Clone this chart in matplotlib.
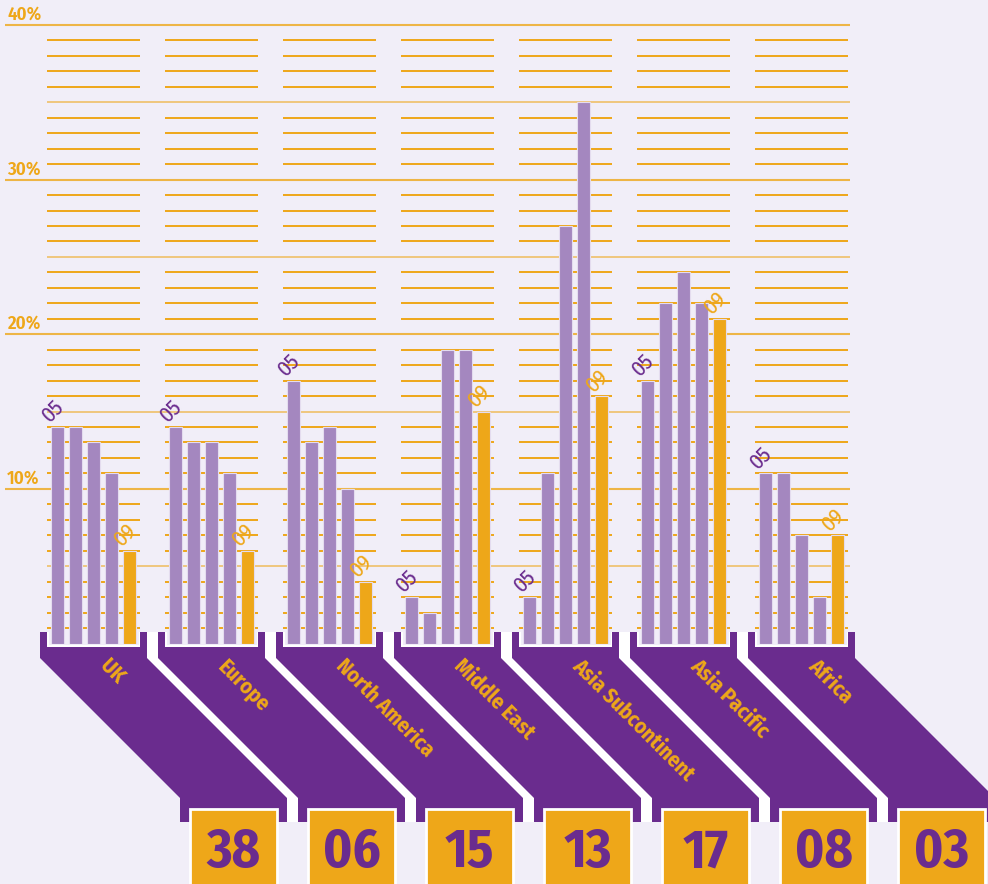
import matplotlib
matplotlib.use('Agg')
import matplotlib.pyplot as plt
from matplotlib.patches import Polygon, Rectangle

# Share of students per region, 2005 to 2009 (percent)
regions = ['UK', 'Europe', 'North America', 'Middle East',
           'Asia Subcontinent', 'Asia Pacific', 'Africa']
share_05 = [14, 14, 17, 3, 3, 17, 11]
share_06 = [14, 13, 13, 2, 11, 22, 11]
share_07 = [13, 13, 14, 19, 27, 24, 7]
share_08 = [11, 11, 10, 19, 35, 22, 3]
share_09 = [6, 6, 4, 15, 16, 21, 7]
first_year, last_year = '05', '09'
counts = ['38', '06', '15', '13', '17', '08', '03']
pct_ticks = [10, 20, 30, 40]

BG = '#f1eef8'
PURPLE = '#6a2c8e'
LILAC = '#a487bf'
ORANGE = '#eea719'
COND = ['Fira Sans Condensed', 'DejaVu Sans']

W, H = 988, 884
fig = plt.figure(figsize=(W / 100, H / 100), dpi=100, facecolor=BG)

# background layer in pixel units for the ribbons and count boxes
bg = fig.add_axes([0, 0, 1, 1], zorder=0)
bg.set_xlim(0, W)
bg.set_ylim(H, 0)
bg.axis('off')

# bar layer: x in pixels, y in percent
base_px, top_px = 643.5, 25
ax = fig.add_axes([0, (H - base_px) / H, 1, (base_px - top_px) / H], zorder=1)
ax.set_xlim(0, W)
ax.set_ylim(0, 40)
ax.patch.set_alpha(0)
ax.axis('off')

pitch = 118
centers = [93.5 + pitch * i for i in range(len(regions))]
offsets = [-36, -18, 0, 18, 36]
bar_w = 12.5
half = 46.5
right_end = centers[-1] + half + 2

# grid: short per-group rules each percent, long rules every 5 and 10
for v in range(1, 41):
    if v % 10 == 0:
        ax.hlines(v, 5, right_end, color=ORANGE, lw=1.5, alpha=0.8,
                  zorder=1, clip_on=False)
    elif v % 5 == 0:
        ax.hlines(v, centers[0] - half, right_end, color=ORANGE, lw=1.4,
                  alpha=0.55, zorder=1)
    else:
        for c in centers:
            ax.hlines(v, c - half, c + half, color=ORANGE, lw=1.4, zorder=1)

for t in pct_ticks:
    ax.text(7, t + 0.1, f'{t}%', color=ORANGE, fontsize=13.5,
            fontweight='semibold', family=COND, ha='left', va='bottom')

series = [share_05, share_06, share_07, share_08, share_09]
colors = [LILAC, LILAC, LILAC, LILAC, ORANGE]
for k, (vals, col) in enumerate(zip(series, colors)):
    xs = [c + offsets[k] for c in centers]
    ax.bar(xs, vals, width=bar_w, color=col, edgecolor='#e4dcef',
           linewidth=0.8, zorder=2)

for i, c in enumerate(centers):
    x0 = c + offsets[0] - bar_w / 2
    ax.text(x0 - 2, share_05[i] + 0.25, first_year, rotation=45,
            rotation_mode='anchor', ha='left', va='baseline',
            color=PURPLE, fontsize=16, fontweight='normal', family=COND,
            zorder=3)
    x4 = c + offsets[4] - bar_w / 2
    ax.text(x4 - 2, share_09[i] + 0.25, last_year, rotation=45,
            rotation_mode='anchor', ha='left', va='baseline',
            color=ORANGE, fontsize=16, fontweight='normal', family=COND,
            zorder=3)

# ribbons running from each group down to its count box
shift = 140
lo0, ro6 = centers[0] - 53.5, centers[-1] + 53.5
band = [(lo0, 632), (ro6, 632), (ro6, 658), (ro6 + shift, 658 + shift),
        (ro6 + shift, 822), (lo0 + shift, 822), (lo0 + shift, 658 + shift),
        (lo0, 658)]
bg.add_patch(Polygon(band, closed=True, facecolor='white', lw=0, zorder=0.5))

for i, c in enumerate(centers):
    lo, li, ri, ro = c - 53.5, c - half, c + half, c + 53.5
    pts = [(lo, 632), (li, 632), (li, 647), (ri, 647), (ri, 632), (ro, 632),
           (ro, 658), (ro + shift, 658 + shift), (ro + shift, 822),
           (lo + shift, 822), (lo + shift, 658 + shift), (lo, 658)]
    bg.add_patch(Polygon(pts, closed=True, facecolor=PURPLE,
                         edgecolor='none', zorder=1))
    bg.add_patch(Rectangle((li + 1.5, 632), ri - li - 3, 12.5,
                           facecolor=BG, edgecolor='none', zorder=1.5))
    bg.add_patch(Rectangle((c + 96.5, 809), 87, 90, facecolor=ORANGE,
                           edgecolor='white', lw=2, zorder=2))
    bg.text(c + 140, 867, counts[i], ha='center', va='baseline',
            color=PURPLE, fontsize=39, fontweight='bold', family=COND,
            zorder=3)
    bg.text(c + 10, 663, regions[i], rotation=-45, rotation_mode='anchor',
            ha='left', va='center', color=ORANGE, fontsize=15.5,
            fontweight='bold', family=COND, zorder=3)

fig.savefig('out.png', dpi=100, facecolor=BG)
